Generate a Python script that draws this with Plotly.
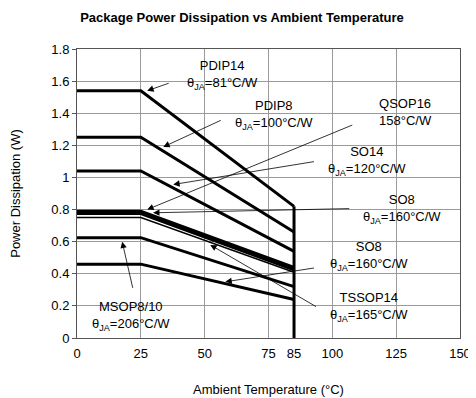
import plotly.graph_objects as go

# ---- data ----
temps = [0, 25, 85]
pdip14 = [1.54, 1.54, 0.82]
pdip8 = [1.25, 1.25, 0.66]
so14 = [1.04, 1.04, 0.54]
qsop16 = [0.79, 0.79, 0.44]
so8_a = [0.775, 0.775, 0.425]
tssop14 = [0.75, 0.75, 0.41]
msop8 = [0.625, 0.625, 0.32]
so8_b = [0.46, 0.46, 0.24]
limit_x = [85, 85]
limit_y = [0, 0.82]

x_ticks = [0, 25, 50, 75, 85, 100, 125, 150]
x_grid = [0, 25, 50, 75, 100, 125, 150]
y_ticks = [0, 0.2, 0.4, 0.6, 0.8, 1, 1.2, 1.4, 1.6, 1.8]
y_ticktext = ["0", "0.2", "0.4", "0.6", "0.8", "1", "1.2", "1.4", "1.6", "1.8"]

# label text, label centre (x, y in data), arrow head (x, y), arrow tail (x, y)
labels = [
    ("PDIP14<br>θ<sub>JA</sub>=81°C/W", (56.9, 1.64), (27.5, 1.54), (36.5, 1.59)),
    ("PDIP8<br>θ<sub>JA</sub>=100°C/W", (77.3, 1.39), (33.8, 1.19), (56.9, 1.36)),
    ("QSOP16<br>158°C/W", (128.8, 1.405), (27.5, 0.80), (108.4, 1.33)),
    ("SO14<br>θ<sub>JA</sub>=120°C/W", (113.5, 1.10), (37.7, 0.956), (93.4, 1.10)),
    ("SO8<br>θ<sub>JA</sub>=160°C/W", (127.2, 0.805), (29.8, 0.78), (107.2, 0.806)),
    ("SO8<br>θ<sub>JA</sub>=160°C/W", (114.3, 0.51), (58.1, 0.35), (93.4, 0.4375)),
    ("TSSOP14<br>θ<sub>JA</sub>=165°C/W", (114.3, 0.195), (52.2, 0.58), (94.2, 0.19)),
    ("MSOP8/10<br>θ<sub>JA</sub>=206°C/W", (21.0, 0.135), (17.7, 0.60), (22.0, 0.30)),
]

FONT = "Liberation Sans, Arial, sans-serif"

fig = go.Figure()
series = [pdip14, pdip8, so14, qsop16, so8_a, tssop14, msop8, so8_b]
widths = [3, 3, 3, 3, 3, 1.5, 3, 3]
for s, w in zip(series, widths):
    fig.add_trace(go.Scatter(x=temps, y=s, mode="lines",
                             line=dict(color="black", width=w), hoverinfo="skip"))
fig.add_trace(go.Scatter(x=limit_x, y=limit_y, mode="lines",
                         line=dict(color="black", width=3), hoverinfo="skip"))
# grid-only overlay axis
fig.add_trace(go.Scatter(x=[None], y=[None], xaxis="x2", mode="lines", hoverinfo="skip"))

for text, (tx, ty), (hx, hy), (sx, sy) in labels:
    fig.add_annotation(x=tx, y=ty, text=text, showarrow=False,
                       font=dict(family=FONT, size=13, color="black"), align="center")
    fig.add_annotation(x=hx, y=hy, ax=sx, ay=sy, axref="x", ayref="y", text=" ",
                       showarrow=True, arrowhead=2, arrowsize=1.6, arrowwidth=0.8,
                       arrowcolor="black", standoff=0, startstandoff=0,
                       font=dict(size=1))

# page body has an 8px default margin, so the figure is sized to compensate
fig.update_layout(
    width=468, height=390,
    margin=dict(l=69, r=16, t=41, b=60, autoexpand=False),
    paper_bgcolor="white", plot_bgcolor="white",
    showlegend=False,
    font=dict(family=FONT, size=13, color="black"),
    title=dict(text="<b>Package Power Dissipation vs Ambient Temperature</b>",
               x=0.5, xanchor="center", y=0.977, yanchor="middle",
               font=dict(family=FONT, size=13, color="black")),
    xaxis=dict(range=[0, 150], tickvals=x_ticks, showgrid=False, zeroline=False,
               showline=True, linecolor="#555", linewidth=1, mirror=True,
               ticks="", ticklabelstandoff=3, automargin=False,
               title=dict(text="Ambient Temperature (°C)", standoff=25,
                          font=dict(family=FONT, size=13))),
    xaxis2=dict(range=[0, 150], overlaying="x", tickvals=x_grid, showticklabels=False,
                showgrid=True, gridcolor="#9a9a9a", gridwidth=1, zeroline=False,
                showline=False, ticks="", automargin=False),
    yaxis=dict(range=[0, 1.8], tickvals=y_ticks, ticktext=y_ticktext,
               showgrid=True, gridcolor="#9a9a9a", gridwidth=1, zeroline=False,
               showline=True, linecolor="#555", linewidth=1, mirror=True,
               ticks="outside", ticklen=4, tickcolor="#555", automargin=False,
               title=dict(text="Power Dissipation (W)", standoff=34,
                          font=dict(family=FONT, size=13))),
)

fig.write_html("out.html")
